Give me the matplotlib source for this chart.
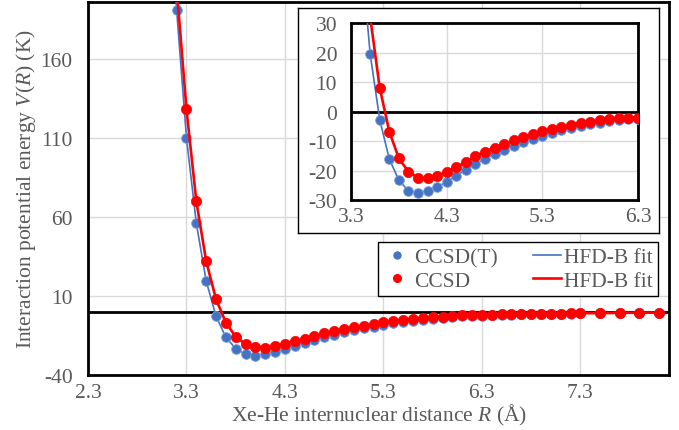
import matplotlib
matplotlib.use("Agg")
import matplotlib.pyplot as plt
from matplotlib.lines import Line2D

plt.rcParams['font.family'] = ['Liberation Serif', 'DejaVu Serif']
plt.rcParams['mathtext.fontset'] = 'custom'
plt.rcParams['mathtext.rm'] = 'Liberation Serif'
plt.rcParams['mathtext.it'] = 'Liberation Serif:italic'
plt.rcParams['axes.unicode_minus'] = False

# CCSD(T) points, R in Angstrom, V in K
R_T = [3.2, 3.3, 3.4, 3.5, 3.6, 3.7, 3.8, 3.9, 4.0, 4.1, 4.2, 4.3, 4.4, 4.5, 4.6, 4.7,
       4.8, 4.9, 5.0, 5.1, 5.2, 5.3, 5.4, 5.5, 5.6, 5.7, 5.8, 5.9, 6.0, 6.1, 6.2, 6.3,
       6.4, 6.5, 6.6, 6.7, 6.8, 6.9, 7.0, 7.1, 7.2, 7.3, 7.5, 7.7, 7.9, 8.1]
V_T = [191, 110, 56, 19.5, -2.8, -16.1, -23.3, -26.9, -27.7, -26.9, -25.7, -23.8, -21.8,
       -19.7, -17.8, -16.0, -14.5, -13.0, -11.7, -10.5, -9.4, -8.3, -7.3, -6.4, -5.6,
       -4.9, -4.3, -3.8, -3.3, -2.9, -2.6, -2.4, -2.2, -2.0, -1.8, -1.7, -1.5, -1.4,
       -1.3, -1.2, -1.1, -1.0, -0.9, -0.8, -0.7, -0.6]

# CCSD points
R_S = R_T[1:]
V_S = [128, 70, 32, 8.0, -6.8, -15.9, -20.4, -22.4, -22.7, -21.8, -20.4, -18.8, -17.2,
       -15.2, -13.6, -12.2, -11.0, -9.8, -8.8, -7.7, -6.7, -5.9, -5.1, -4.5, -3.9,
       -3.5, -3.0, -2.6, -2.3, -2.2, -2.1, -1.9, -1.7, -1.6, -1.5, -1.4, -1.3, -1.2,
       -1.1, -1.0, -0.9, -0.8, -0.7, -0.6, -0.5]

# HFD-B fit curves (continue above the top of the main plot)
R_fit_T = [3.1] + R_T
V_fit_T = [290] + V_T
R_fit_S = [3.2] + R_S
V_fit_S = [205] + V_S

blue = '#4472C4'
red = '#FF0000'
grey = '#595959'
gridc = '#D9D9D9'
fs = 15.5


def draw(ax, ms):
    ax.axhline(0, color='black', lw=2, zorder=2)
    ax.plot(R_fit_T, V_fit_T, color=blue, lw=1.2, zorder=3)
    ax.plot(R_T, V_T, 'o', color=blue, ms=ms, mec='#7FA0D8', mew=0.6, zorder=4)
    ax.plot(R_fit_S, V_fit_S, color=red, lw=1.9, zorder=5)
    ax.plot(R_S, V_S, 'o', color=red, ms=ms + 0.4, mec=red, mew=0.5, zorder=6)
    ax.grid(True, color=gridc, lw=1)
    ax.set_axisbelow(True)
    for s in ax.spines.values():
        s.set_color('black')
        s.set_linewidth(2)
    ax.tick_params(length=0, labelsize=fs, labelcolor=grey)


fig = plt.figure(figsize=(6.79, 4.31), dpi=100)

ax = fig.add_axes([0.1296, 0.1276, 0.8557, 0.8654])
draw(ax, 7)
ax.set_xlim(2.3, 8.2)
ax.set_ylim(-40, 196)
ax.set_xticks([2.3, 3.3, 4.3, 5.3, 6.3, 7.3])
ax.set_yticks([-40, 10, 60, 110, 160])
ax.tick_params(axis='y', pad=11)
ax.tick_params(axis='x', pad=6)
ax.set_xlabel('Xe-He internuclear distance $R$ (Å)', fontsize=fs, color=grey, labelpad=0)
ax.set_ylabel('Interaction potential energy $V$($R$) (K)', fontsize=fs, color=grey, labelpad=2)

handles = [Line2D([], [], ls='', marker='o', color=blue, ms=5),
           Line2D([], [], ls='', marker='o', color=red, ms=5.5),
           Line2D([], [], color=blue, lw=1.2),
           Line2D([], [], color=red, lw=1.9)]
leg = ax.legend(handles, ['CCSD(T)', 'CCSD', 'HFD-B fit', 'HFD-B fit'], ncol=2,
                loc='upper right', bbox_to_anchor=(658 / 679, 1 - 243 / 431),
                bbox_transform=fig.transFigure, fontsize=fs, frameon=True,
                fancybox=False, edgecolor='black', framealpha=1, borderpad=0.25,
                handlelength=1.3, handletextpad=0.15, columnspacing=1.6,
                labelspacing=0.15, borderaxespad=0)
leg.get_frame().set_linewidth(1)
for t in leg.get_texts():
    t.set_color(grey)

# white box behind the inset
box = fig.add_axes([0.4389, 0.457, 0.5316, 0.522])
box.set_xticks([])
box.set_yticks([])
box.set_facecolor('white')
for s in box.spines.values():
    s.set_linewidth(1)
    s.set_color('black')

ins = fig.add_axes([0.517, 0.5336, 0.4226, 0.4107])
draw(ins, 7)
ins.set_xlim(3.3, 6.3)
ins.set_ylim(-30, 30)
ins.set_xticks([3.3, 4.3, 5.3, 6.3])
ins.set_yticks([-30, -20, -10, 0, 10, 20, 30])
ins.tick_params(axis='y', pad=10)
ins.tick_params(axis='x', pad=5)

fig.savefig('out.png', dpi=100, facecolor='white')
